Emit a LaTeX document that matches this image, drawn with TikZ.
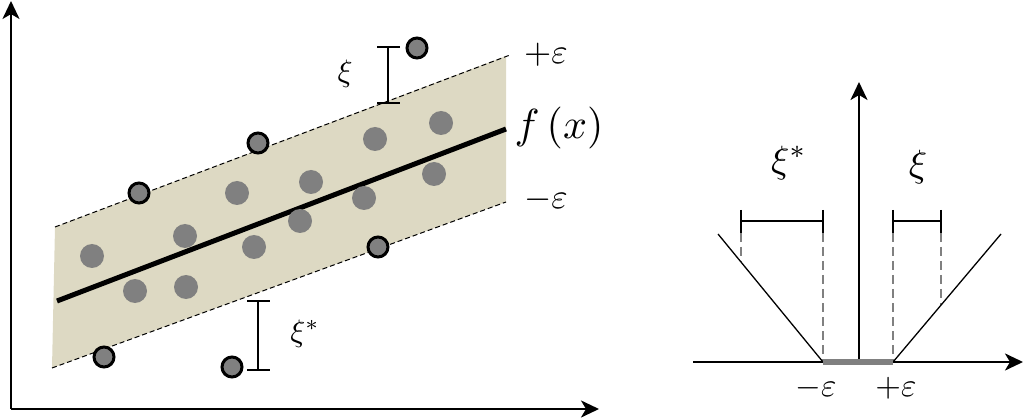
\documentclass[tikz,border=0pt]{standalone}
\usepackage{graphicx}
\usetikzlibrary{arrows.meta}
\definecolor{bandfill}{RGB}{221,217,195}
\definecolor{dotgray}{RGB}{128,128,128}
\newcommand{\mysz}[2]{\scalebox{#1}{#2}}
\tikzset{
  axisline/.style={line width=2.5pt,-{Stealth[length=18pt,width=17pt,inset=5pt]}},
  outpt/.style={circle,fill=dotgray,draw=black,line width=3pt,minimum size=20pt,inner sep=0pt},
  inpt/.style={circle,fill=dotgray,minimum size=24pt,inner sep=0pt},
  bandedge/.style={line width=1pt,dash pattern=on 5pt off 3pt},
  errbar/.style={line width=2pt},
  guide/.style={dotgray,line width=2.5pt,dash pattern=on 9pt off 5pt},
  vline/.style={line width=1.3pt},
  lbl/.style={inner sep=0pt},
}
\begin{document}
\begin{tikzpicture}[x=1pt,y=-1pt]
\useasboundingbox (0,0) rectangle (1024,419);
% ---------- left panel ----------
\coordinate (O) at (11,409);
\coordinate (Ytip) at (11,1);
\coordinate (Xtip) at (599,409);
\fill[bandfill] (55,227) -- (506,56) -- (506,202) -- (52,368) -- cycle;
\coordinate (tl) at (55,227); \coordinate (tr) at (510,55);
\coordinate (bl) at (52,368); \coordinate (br) at (506,202);
\draw[bandedge] (tl) -- (tr);
\draw[bandedge] (bl) -- (br);
\coordinate (fl) at (57,301); \coordinate (fr) at (506,129);
\draw[line width=5pt] (fl) -- (fr);
\draw[axisline] (O) -- (Ytip);
\draw[axisline] (O) -- (Xtip);
% inner points
\foreach \n/\x/\y in {a/92/256,b/135/291,c/185/236,d/186/287,e/237/193,f/254/247,g/300/221,h/311/182,i/364/198,j/375/139,k/434/174,l/441/123}
  \node[inpt] (in\n) at (\x,\y) {};
% outer points
\node[outpt] (p1) at (417,48) {};
\node[outpt] (p2) at (258,143) {};
\node[outpt] (p3) at (139,193) {};
\node[outpt] (p4) at (378,247) {};
\node[outpt] (p5) at (104,357) {};
\node[outpt] (p6) at (232,367) {};
% error bars
\coordinate (xiT) at (388,47); \coordinate (xiB) at (388,103);
\draw[errbar] (xiT) -- (xiB);
\draw[errbar] (377,47) -- (400,47);
\draw[errbar] (377,103) -- (400,103);
\coordinate (xsT) at (258,301); \coordinate (xsB) at (258,370);
\draw[errbar] (xsT) -- (xsB);
\draw[errbar] (247,301) -- (270,301);
\draw[errbar] (247,370) -- (270,370);
% labels
\node[lbl] (lxi) at (345,74) {\mysz{3.1}{$\xi$}};
\node[lbl] (lxs) at (305,334) {\mysz{3.1}{$\xi^{*}$}};
\node[lbl] (lpe) at (546,55) {\mysz{3.5}{$+\varepsilon$}};
\node[lbl] (lme) at (546,200) {\mysz{3.5}{$-\varepsilon$}};
\node[lbl] (lfx) at (559,128) {\mysz{4.2}{$f\,(x)$}};
% ---------- right panel ----------
\coordinate (R0) at (693,362);
\coordinate (Rx) at (1023,362);
\coordinate (Rb) at (859,362);
\coordinate (Ry) at (859,82);
\coordinate (me) at (823,362);
\coordinate (pe) at (893,362);
\coordinate (vl) at (718,234);
\coordinate (vr) at (1001,234);
\draw[guide] (741,233) -- (741,262);
\draw[guide] (823,233) -- (me);
\draw[guide] (893,233) -- (pe);
\draw[guide] (941,233) -- (941,305);
\draw[vline] (vl) -- (me);
\draw[vline] (pe) -- (vr);
\draw[axisline] (R0) -- (Rx);
\draw[axisline] (Rb) -- (Ry);
\draw[dotgray,line width=6pt] (me) -- (pe);
% bars
\draw[errbar] (741,221) -- (823,221);
\draw[errbar] (741,210) -- (741,233);
\draw[errbar] (823,210) -- (823,233);
\draw[errbar] (893,221) -- (941,221);
\draw[errbar] (893,210) -- (893,233);
\draw[errbar] (941,210) -- (941,233);
\node[lbl] (rxs) at (789,163) {\mysz{3.8}{$\xi^{*}$}};
\node[lbl] (rxi) at (918,167) {\mysz{3.8}{$\xi$}};
\node[lbl] (rme) at (816,388) {\mysz{3.3}{$-\varepsilon$}};
\node[lbl] (rpe) at (896,388) {\mysz{3.3}{$+\varepsilon$}};
\end{tikzpicture}
\end{document}
